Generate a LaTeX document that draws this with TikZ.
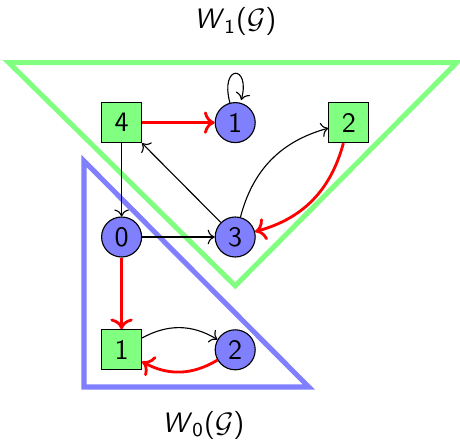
\documentclass[tikz,border=0pt]{standalone}
\usepackage{tikz}
\usetikzlibrary{arrows.meta}
\usepackage{xcolor}
\definecolor{cEven}{RGB}{128,128,255}
\definecolor{cOdd}{RGB}{128,255,128}
\tikzset{
  even/.style   ={draw,circle,fill=cEven,minimum size=5mm,inner sep=0pt,font=\sffamily},
  odd/.style    ={draw,rectangle,fill=cOdd,minimum size=5mm,inner sep=0pt,font=\sffamily},
  mv/.style     ={->,line width=0.4pt},
  strat/.style  ={->,draw=red,line width=1pt},
  region/.style ={line width=1.8pt},
  lbl/.style    ={font=\sffamily},
}
\newcommand{\winreg}[1]{\textit{W}\textsubscript{#1}($\mathcal{G}$)}

\begin{document}
\begin{tikzpicture}[x=1cm,y=1cm]
\useasboundingbox (0,0) rectangle (5.75,5.5125);

% winning regions
\draw[region,cOdd] (0.11,4.73) -- (5.71,4.73) -- (2.94,1.94) -- cycle;
\draw[region,cEven] (1.05,3.5) -- (1.05,0.675) -- (3.86,0.675) -- cycle;

\node[lbl] (w1) at (2.94,5.24) {\winreg{1}};
\node[lbl] (w0) at (2.54,0.2) {\winreg{0}};

% vertices
\node[odd]  (v4) at (1.52,3.98) {4};
\node[even] (v1) at (2.94,3.98) {1};
\node[odd]  (v2) at (4.36,3.98) {2};
\node[even] (v0) at (1.52,2.55) {0};
\node[even] (v3) at (2.94,2.55) {3};
\node[odd]  (u1) at (1.52,1.14) {1};
\node[even] (u2) at (2.94,1.14) {2};

% moves
\draw[mv] (v1) edge[loop above] (v1);
\draw[mv] (v4) -- (v0);
\draw[mv] (v3) -- (v4);
\draw[mv] (v0) -- (v3);
\draw[mv] (v3) to[bend left] (v2);
\draw[mv] (u1) to[bend left] (u2);

% strategies
\draw[strat] (v4) -- (v1);
\draw[strat] (v2) to[bend left] (v3);
\draw[strat] (v0) -- (u1);
\draw[strat] (u2) to[bend left] (u1);

\end{tikzpicture}
\end{document}
